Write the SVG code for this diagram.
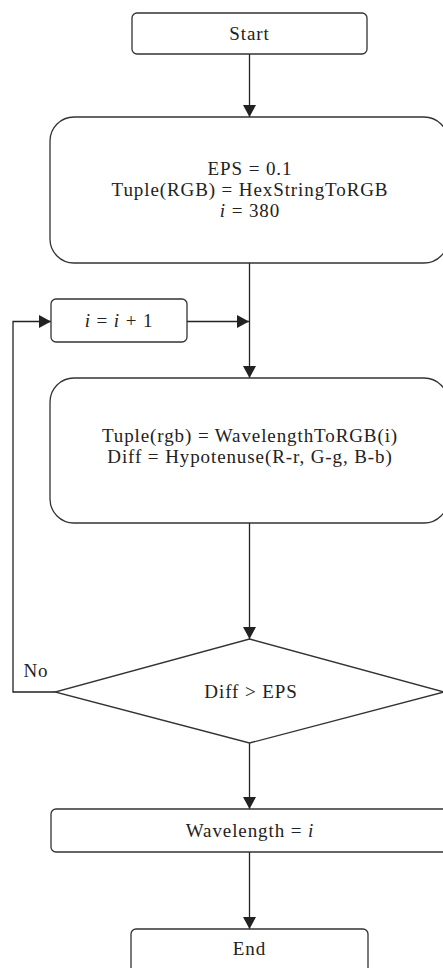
<svg xmlns="http://www.w3.org/2000/svg" width="443" height="968" viewBox="0 0 443 968">
  <style>
    .box { fill: #ffffff; stroke: #333333; stroke-width: 1.3; }
    .edge { fill: none; stroke: #222222; stroke-width: 1.3; }
    text { font-family: "Liberation Serif", "Times New Roman", serif; font-size: 19px; letter-spacing: 0.9px; fill: #222222; text-anchor: middle; }
    .it { font-style: italic; }
  </style>
  <defs>
    <marker id="arrow" markerUnits="userSpaceOnUse" markerWidth="14" markerHeight="14" refX="12" refY="6.5" orient="auto">
      <path d="M0,0 L12,6.5 L0,13 Z" fill="#222222"/>
    </marker>
  </defs>
  <rect width="443" height="968" fill="#ffffff"/>

  <g id="connectors">
    <line class="edge" x1="249.5" y1="54" x2="249.5" y2="117" marker-end="url(#arrow)"/>
    <line class="edge" x1="249.5" y1="263" x2="249.5" y2="378" marker-end="url(#arrow)"/>
    <line class="edge" x1="187" y1="321.5" x2="249" y2="321.5" marker-end="url(#arrow)"/>
    <line class="edge" x1="249.5" y1="523" x2="249.5" y2="639" marker-end="url(#arrow)"/>
    <polyline class="edge" points="55,692 13,692 13,321.5 51,321.5" marker-end="url(#arrow)"/>
    <line class="edge" x1="249.5" y1="743" x2="249.5" y2="809" marker-end="url(#arrow)"/>
    <line class="edge" x1="249.5" y1="852" x2="249.5" y2="929" marker-end="url(#arrow)"/>
  </g>

  <g id="start">
    <rect class="box" x="132" y="13" width="235" height="41" rx="5"/>
    <text x="249.5" y="40">Start</text>
  </g>

  <g id="init">
    <rect class="box" x="50" y="117" width="398" height="146" rx="24"/>
    <text x="250" y="175">EPS = 0.1</text>
    <text x="250" y="196">Tuple(RGB) = HexStringToRGB</text>
    <text x="250" y="217"><tspan class="it">i</tspan> = 380</text>
  </g>

  <g id="increment">
    <rect class="box" x="51" y="299" width="136" height="43" rx="5"/>
    <text x="119" y="327"><tspan class="it">i</tspan> = <tspan class="it">i</tspan> + 1</text>
  </g>

  <g id="compute">
    <rect class="box" x="50" y="378" width="398" height="145" rx="24"/>
    <text x="250" y="442">Tuple(rgb) = WavelengthToRGB(i)</text>
    <text x="250" y="463">Diff = Hypotenuse(R-r, G-g, B-b)</text>
  </g>

  <g id="decision">
    <polygon class="box" points="249.5,639 444,692 249.5,743 55,692"/>
    <text x="251" y="698">Diff &gt; EPS</text>
    <text x="36" y="677">No</text>
  </g>

  <g id="result">
    <rect class="box" x="51" y="809" width="398" height="43" rx="5"/>
    <text x="250" y="837">Wavelength = <tspan class="it">i</tspan></text>
  </g>

  <g id="end">
    <rect class="box" x="131" y="929" width="237" height="45" rx="5"/>
    <text x="249.5" y="955">End</text>
  </g>
</svg>
